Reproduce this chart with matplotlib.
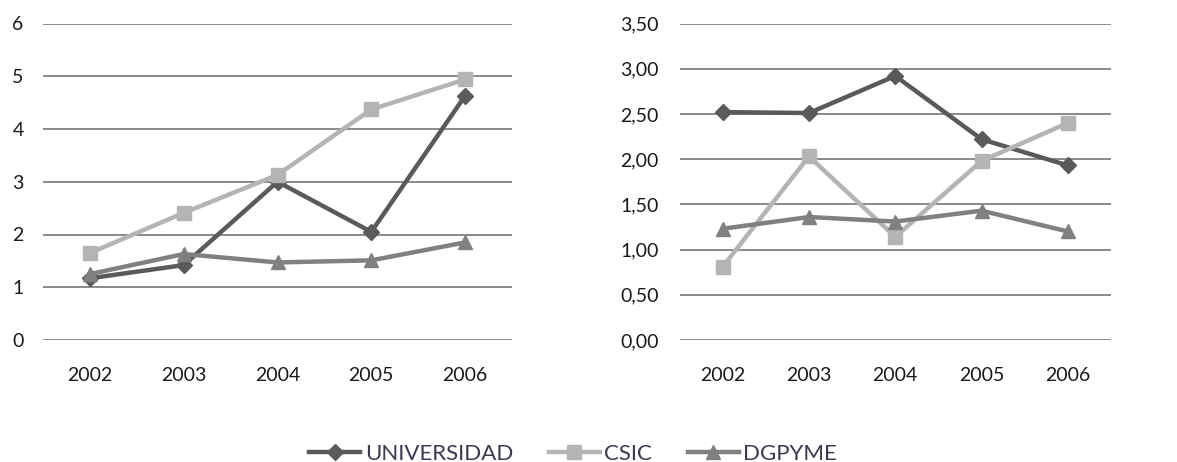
import matplotlib
import matplotlib.pyplot as plt
from matplotlib.ticker import FuncFormatter

matplotlib.use("Agg")

years = ["2002", "2003", "2004", "2005", "2006"]

# left panel
univ_left = [1.17, 1.42, 3.00, 2.05, 4.63]
csic_left = [1.65, 2.41, 3.13, 4.37, 4.94]
dgpyme_left = [1.25, 1.63, 1.47, 1.51, 1.85]

# right panel
univ_right = [2.52, 2.51, 2.92, 2.22, 1.93]
csic_right = [0.81, 2.03, 1.14, 1.98, 2.40]
dgpyme_right = [1.23, 1.36, 1.31, 1.43, 1.20]

series_names = ["UNIVERSIDAD", "CSIC", "DGPYME"]
colors = ["#5a5a5a", "#b4b4b4", "#808080"]
markers = ["D", "s", "^"]
msizes = [8, 10, 10]

plt.rcParams["font.family"] = ["Lato", "DejaVu Sans"]
plt.rcParams["font.size"] = 14

fig = plt.figure(figsize=(11.77, 4.62), dpi=100)
ax1 = fig.add_axes([43 / 1177, 1 - 340 / 462, (512 - 43) / 1177, (340 - 23.5) / 462])
ax2 = fig.add_axes([679.5 / 1177, 1 - 340 / 462, (1111 - 679.5) / 1177, (340 - 23.5) / 462])


def style_axis(ax, ymax, step, fmt, ypad):
    ax.set_xlim(-0.5, len(years) - 0.5)
    ax.set_ylim(0, ymax)
    ticks = [i * step for i in range(int(round(ymax / step)) + 1)]
    ax.set_yticks(ticks)
    ax.yaxis.set_major_formatter(FuncFormatter(fmt))
    ax.set_xticks(range(len(years)))
    ax.set_xticklabels(years)
    ax.grid(axis="y", color="#8a8a8a", linewidth=1.4, zorder=0)
    ax.set_axisbelow(True)
    for sp in ax.spines.values():
        sp.set_visible(False)
    ax.tick_params(axis="both", length=0, colors="#1a1a1a")
    ax.tick_params(axis="y", pad=ypad)
    ax.tick_params(axis="x", pad=19.5)


def draw(ax, data):
    for vals, name, c, m, ms in zip(data, series_names, colors, markers, msizes):
        ax.plot(range(len(years)), vals, color=c, linewidth=3.2, marker=m,
                markersize=ms, markerfacecolor=c, markeredgecolor=c, label=name, zorder=3)


draw(ax1, [univ_left, csic_left, dgpyme_left])
draw(ax2, [univ_right, csic_right, dgpyme_right])

style_axis(ax1, 6, 1, lambda v, p: f"{v:.0f}", 14)
style_axis(ax2, 3.5, 0.5, lambda v, p: f"{v:.2f}".replace(".", ","), 15)

handles, labels = ax1.get_legend_handles_labels()
leg = fig.legend(handles, labels, loc="center", bbox_to_anchor=(0.487, 0.017), ncol=3,
                 frameon=False, handlelength=2.3, handletextpad=0.2, columnspacing=1.6,
                 fontsize=16)
for t in leg.get_texts():
    t.set_color("#3a3a50")

fig.savefig("out.png", dpi=100)
